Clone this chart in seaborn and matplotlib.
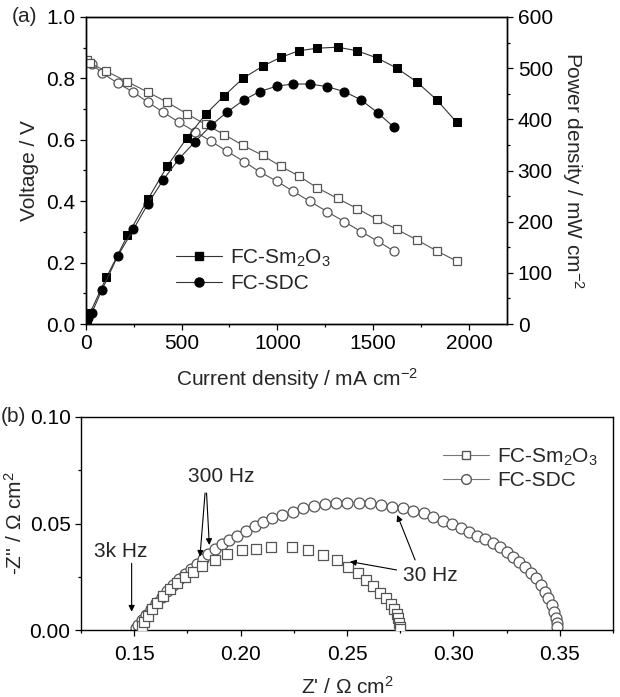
import matplotlib
matplotlib.use("Agg")
import matplotlib.pyplot as plt
import seaborn as sns
from matplotlib.lines import Line2D
from matplotlib.ticker import MultipleLocator, FormatStrFormatter

# ---- panel (a): I-V and I-P curves ----
sm_current = [9, 22, 108, 218, 325, 426, 527, 626, 723, 820, 924, 1017, 1112,
              1207, 1315, 1416, 1520, 1624, 1728, 1832, 1936]
sm_voltage = [0.86, 0.85, 0.823, 0.789, 0.755, 0.722, 0.685, 0.650, 0.617, 0.582,
              0.549, 0.514, 0.482, 0.444, 0.409, 0.376, 0.341, 0.308, 0.274,
              0.238, 0.205]
sm_power = [8, 21, 91, 173, 244, 309, 363, 410, 446, 480, 504, 521, 534, 539,
            541, 534, 520, 500, 473, 438, 394]

sdc_current = [14, 31, 84, 166, 249, 325, 405, 487, 570, 654, 737, 826, 907, 997,
               1081, 1168, 1260, 1350, 1437, 1523, 1607]
sdc_voltage = [0.855, 0.848, 0.818, 0.785, 0.755, 0.722, 0.690, 0.657, 0.627,
               0.595, 0.563, 0.529, 0.496, 0.465, 0.433, 0.400, 0.366, 0.333,
               0.301, 0.270, 0.238]
sdc_power = [12, 21, 66, 132, 185, 235, 282, 323, 356, 388, 414, 438, 454, 465,
             469, 469, 464, 454, 438, 413, 385]

# ---- panel (b): impedance spectra ----
sm_zre = [0.1535, 0.1546, 0.1563, 0.1585, 0.1609, 0.1637, 0.1668, 0.1703, 0.1739,
          0.1775, 0.1817, 0.1880, 0.1938, 0.2005, 0.2072, 0.2145, 0.2240, 0.2315,
          0.2389, 0.2455, 0.2506, 0.2553, 0.2589, 0.2624, 0.2655, 0.2683, 0.2705,
          0.2722, 0.2734, 0.2741, 0.2746, 0.2749, 0.2750]
sm_zim = [0.0019, 0.0039, 0.0066, 0.0097, 0.0128, 0.0160, 0.0191, 0.0219, 0.0247,
          0.0274, 0.0300, 0.0329, 0.0355, 0.0376, 0.0382, 0.0390, 0.0388, 0.0376,
          0.0352, 0.0329, 0.0297, 0.0266, 0.0235, 0.0207, 0.0175, 0.0149, 0.0122,
          0.0097, 0.0075, 0.0055, 0.0034, 0.0015, 0.0004]

sdc_zre = [0.1508, 0.1519, 0.1535, 0.1555, 0.1578, 0.1602, 0.1629, 0.1656, 0.1684,
           0.1712, 0.1739, 0.1766, 0.1794, 0.1822, 0.1848, 0.1880, 0.1911, 0.1947,
           0.1985, 0.2025, 0.2068, 0.2105, 0.2146, 0.2193, 0.2245, 0.2295, 0.2345,
           0.2397, 0.2448, 0.2501, 0.2556, 0.2608, 0.2658, 0.2710, 0.2762, 0.2812,
           0.2862, 0.2906, 0.2950, 0.2992, 0.3034, 0.3075, 0.3112, 0.3149, 0.3185,
           0.3219, 0.3250, 0.3281, 0.3310, 0.3336, 0.3363, 0.3388, 0.3410, 0.3430,
           0.3446, 0.3462, 0.3473, 0.3482, 0.3487, 0.3489]
sdc_zim = [0.0008, 0.0023, 0.0047, 0.0072, 0.0100, 0.0128, 0.0156, 0.0185, 0.0211,
           0.0238, 0.0261, 0.0285, 0.0310, 0.0333, 0.0357, 0.0379, 0.0402, 0.0423,
           0.0443, 0.0466, 0.0488, 0.0506, 0.0524, 0.0540, 0.0555, 0.0571, 0.0582,
           0.0590, 0.0595, 0.0597, 0.0597, 0.0594, 0.0588, 0.0579, 0.0571, 0.0561,
           0.0548, 0.0532, 0.0513, 0.0496, 0.0477, 0.0462, 0.0443, 0.0426, 0.0407,
           0.0388, 0.0368, 0.0344, 0.0321, 0.0297, 0.0269, 0.0243, 0.0211, 0.0180,
           0.0149, 0.0117, 0.0086, 0.0055, 0.0031, 0.0013]

labels = ["FC-Sm$_2$O$_3$", "FC-SDC"]

FS = 15
sns.set_style("ticks")
plt.rcParams["font.family"] = ["Liberation Sans", "DejaVu Sans"]
plt.rcParams["mathtext.fontset"] = "custom"
plt.rcParams["mathtext.rm"] = "Liberation Sans"
plt.rcParams["mathtext.it"] = "Liberation Sans:italic"
plt.rcParams["font.size"] = FS
for k in ("xtick", "ytick"):
    plt.rcParams[f"{k}.major.size"] = 4.5
    plt.rcParams[f"{k}.minor.size"] = 2.5
    plt.rcParams[f"{k}.major.width"] = 0.9
    plt.rcParams[f"{k}.minor.width"] = 0.9
    plt.rcParams[f"{k}.major.pad"] = 3
    plt.rcParams[f"{k}.labelsize"] = FS
    plt.rcParams[f"{k}.color"] = "black"
plt.rcParams["axes.linewidth"] = 1.0
plt.rcParams["axes.edgecolor"] = "black"

fig = plt.figure(figsize=(6.2, 6.97), dpi=100)
W, H = 620, 697
ax = fig.add_axes([85.7 / W, 1 - 324 / H, (507.3 - 85.7) / W, (324 - 17) / H])
ax2 = ax.twinx()

grey = "#555555"
open_kw = dict(markerfacecolor="white", markeredgecolor=grey, color=grey,
               linewidth=0.8, markeredgewidth=0.9, sort=False, legend=False)
fill_kw = dict(markerfacecolor="black", markeredgecolor="black", color="#333333",
               linewidth=0.8, sort=False, legend=False)

sns.lineplot(x=sdc_current, y=sdc_voltage, ax=ax, marker="o", markersize=6.5, **open_kw)
sns.lineplot(x=sm_current, y=sm_voltage, ax=ax, marker="s", markersize=6, **open_kw)
sns.lineplot(x=sm_current, y=sm_power, ax=ax2, marker="s", markersize=6, **fill_kw)
sns.lineplot(x=sdc_current, y=sdc_power, ax=ax2, marker="o", markersize=6.5, **fill_kw)

ax.set_xlim(0, 2200)
ax.set_ylim(0, 1.0)
ax2.set_ylim(0, 600)
ax.xaxis.set_major_locator(MultipleLocator(500))
ax.xaxis.set_minor_locator(MultipleLocator(250))
ax.yaxis.set_major_locator(MultipleLocator(0.2))
ax.yaxis.set_minor_locator(MultipleLocator(0.1))
ax.yaxis.set_major_formatter(FormatStrFormatter("%.1f"))
ax2.yaxis.set_major_locator(MultipleLocator(100))
ax2.yaxis.set_minor_locator(MultipleLocator(50))
ax.tick_params(which="both", direction="out", top=False, right=False)
ax2.tick_params(which="both", direction="out")
for a in (ax, ax2):
    for s in a.spines.values():
        s.set_visible(True)
        s.set_linewidth(1.0)
        s.set_color("black")

ax.set_xlabel("Current density / mA cm$^{-2}$", labelpad=9)
ax.set_ylabel("Voltage / V", labelpad=5)
ax2.set_ylabel("Power density / mW cm$^{-2}$", rotation=270, labelpad=24)

h_a = [Line2D([], [], color="#333333", lw=0.8, marker="s", ms=6, mfc="black", mec="black"),
       Line2D([], [], color="#333333", lw=0.8, marker="o", ms=6.5, mfc="black", mec="black")]
ax2.legend(h_a, labels, loc="upper left", bbox_to_anchor=(0.17, 0.31), frameon=False,
           handlelength=2.2, handletextpad=0.4, labelspacing=0.25, fontsize=FS)
fig.text(12 / W, 1 - 17 / H, "(a)", ha="left", va="center", fontsize=FS)

# ---- panel (b) ----
bx = fig.add_axes([81 / W, 1 - 630 / H, (613 - 81) / W, (630 - 417) / H])
sns.scatterplot(x=sdc_zre, y=sdc_zim, ax=bx, marker="o", s=62, facecolor="white",
                edgecolor=grey, linewidth=0.9, legend=False, zorder=2)
sns.scatterplot(x=sm_zre, y=sm_zim, ax=bx, marker="s", s=44, facecolor="white",
                edgecolor=grey, linewidth=0.9, legend=False, zorder=3)
bx.set_xlim(0.125, 0.375)
bx.set_ylim(0, 0.10)
bx.xaxis.set_major_locator(MultipleLocator(0.05))
bx.xaxis.set_minor_locator(MultipleLocator(0.025))
bx.yaxis.set_major_locator(MultipleLocator(0.05))
bx.yaxis.set_minor_locator(MultipleLocator(0.025))
bx.xaxis.set_major_formatter(FormatStrFormatter("%.2f"))
bx.yaxis.set_major_formatter(FormatStrFormatter("%.2f"))
bx.tick_params(which="both", direction="out", top=False, right=False)
bx.tick_params(axis="x", which="major", pad=6)
for s in bx.spines.values():
    s.set_visible(True)
    s.set_color("black")
bx.set_xlabel("Z' / $\\Omega$ cm$^2$", labelpad=9)
bx.set_ylabel("-Z'' / $\\Omega$ cm$^2$")
bx.yaxis.set_label_coords((26 - 81) / 532, 0.5)

h_b = [Line2D([], [], color="#777777", lw=0.8, marker="s", ms=6, mfc="white", mec=grey),
       Line2D([], [], color="#777777", lw=0.8, marker="o", ms=7, mfc="white", mec=grey)]
bx.legend(h_b, labels, loc="upper left", bbox_to_anchor=(0.645, 0.95), frameon=False,
          handlelength=2.2, handletextpad=0.4, labelspacing=0.15, fontsize=FS)

arrow = dict(arrowstyle="-|>", color="black", lw=0.8, mutation_scale=9, shrinkA=0, shrinkB=0)
bx.text(0.1438, 0.0368, "3k Hz", ha="center", va="center", fontsize=FS)
bx.annotate("", xy=(0.1488, 0.0086), xytext=(0.1488, 0.0313), arrowprops=arrow)
bx.text(0.1908, 0.0720, "300 Hz", ha="center", va="center", fontsize=FS)
bx.annotate("", xy=(0.1809, 0.0344), xytext=(0.1833, 0.0643), arrowprops=arrow)
bx.annotate("", xy=(0.1853, 0.0399), xytext=(0.1840, 0.0643), arrowprops=arrow)
bx.text(0.2763, 0.0258, "30 Hz", ha="left", va="center", fontsize=FS)
bx.annotate("", xy=(0.2514, 0.0321), xytext=(0.2733, 0.0282), arrowprops=arrow)
bx.annotate("", xy=(0.2736, 0.0540), xytext=(0.2820, 0.0329), arrowprops=arrow)
fig.text(1 / W, 1 - 417 / H, "(b)", ha="left", va="center", fontsize=FS)

fig.savefig("out.png", dpi=100)
